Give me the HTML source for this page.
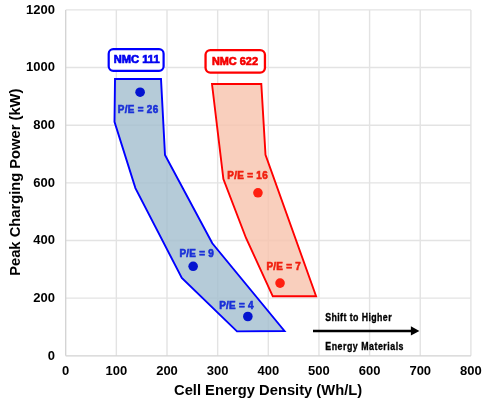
<!DOCTYPE html>
<html><head><meta charset="utf-8">
<style>
html,body{margin:0;padding:0;background:#fff;}
body{width:487px;height:402px;overflow:hidden;}
svg{display:block;will-change:transform;filter:blur(0.3px);font-family:"Liberation Sans",sans-serif;font-weight:bold;}
</style></head>
<body>
<svg width="487" height="402" viewBox="0 0 487 402">
<g stroke="#e3e3e3" stroke-width="1.4" fill="none">
<line x1="116.35" y1="9.90" x2="116.35" y2="355.80"/>
<line x1="167.00" y1="9.90" x2="167.00" y2="355.80"/>
<line x1="217.65" y1="9.90" x2="217.65" y2="355.80"/>
<line x1="268.30" y1="9.90" x2="268.30" y2="355.80"/>
<line x1="318.95" y1="9.90" x2="318.95" y2="355.80"/>
<line x1="369.60" y1="9.90" x2="369.60" y2="355.80"/>
<line x1="420.25" y1="9.90" x2="420.25" y2="355.80"/>
<line x1="470.90" y1="9.90" x2="470.90" y2="355.80"/>
<line x1="65.70" y1="240.50" x2="470.90" y2="240.50"/>
<line x1="65.70" y1="298.15" x2="470.90" y2="298.15"/>
<line x1="65.70" y1="182.85" x2="470.90" y2="182.85"/>
<line x1="65.70" y1="125.20" x2="470.90" y2="125.20"/>
<line x1="65.70" y1="67.55" x2="470.90" y2="67.55"/>
<line x1="65.70" y1="9.90" x2="470.90" y2="9.90"/>
</g>
<g stroke="#d2d2d2" stroke-width="1.3" fill="none">
<line x1="65.70" y1="9.90" x2="65.70" y2="355.80"/>
<line x1="65.70" y1="355.80" x2="470.90" y2="355.80"/>
</g>
<g font-size="13.7" fill="#000" text-anchor="end">
<text x="54.9" y="359.70" textLength="7.24" lengthAdjust="spacingAndGlyphs">0</text>
<text x="54.9" y="302.05" textLength="21.71" lengthAdjust="spacingAndGlyphs">200</text>
<text x="54.9" y="244.40" textLength="21.71" lengthAdjust="spacingAndGlyphs">400</text>
<text x="54.9" y="186.75" textLength="21.71" lengthAdjust="spacingAndGlyphs">600</text>
<text x="54.9" y="129.10" textLength="21.71" lengthAdjust="spacingAndGlyphs">800</text>
<text x="54.9" y="71.45" textLength="28.95" lengthAdjust="spacingAndGlyphs">1000</text>
<text x="54.9" y="13.80" textLength="28.95" lengthAdjust="spacingAndGlyphs">1200</text>
</g>
<g font-size="13.7" fill="#000" text-anchor="middle">
<text x="65.70" y="375.2" textLength="7.24" lengthAdjust="spacingAndGlyphs">0</text>
<text x="116.35" y="375.2" textLength="21.71" lengthAdjust="spacingAndGlyphs">100</text>
<text x="167.00" y="375.2" textLength="21.71" lengthAdjust="spacingAndGlyphs">200</text>
<text x="217.65" y="375.2" textLength="21.71" lengthAdjust="spacingAndGlyphs">300</text>
<text x="268.30" y="375.2" textLength="21.71" lengthAdjust="spacingAndGlyphs">400</text>
<text x="318.95" y="375.2" textLength="21.71" lengthAdjust="spacingAndGlyphs">500</text>
<text x="369.60" y="375.2" textLength="21.71" lengthAdjust="spacingAndGlyphs">600</text>
<text x="420.25" y="375.2" textLength="21.71" lengthAdjust="spacingAndGlyphs">700</text>
<text x="470.90" y="375.2" textLength="21.71" lengthAdjust="spacingAndGlyphs">800</text>
</g>
<text x="174.03" y="394.55" font-size="15.3" textLength="188.13" lengthAdjust="spacingAndGlyphs">Cell Energy Density (Wh/L)</text>
<text transform="translate(19.85,275.8) rotate(-90)" x="0" y="0" font-size="15.4" textLength="187.16" lengthAdjust="spacingAndGlyphs">Peak Charging Power (kW)</text>

<polygon points="115,79 161,79 165,155 212.3,243.3 284.5,331 237,331.4 181.8,277.9 135.4,188.1 114.5,121.9" fill="#a2bece" fill-opacity="0.8" stroke="#0000ff" stroke-width="1.9" stroke-linejoin="miter"/>
<polygon points="212,84 261.3,84 265.5,154.9 316.1,296.3 272.8,296.3 246,238 223.4,179" fill="#f7c3ac" fill-opacity="0.8" stroke="#ff0000" stroke-width="1.9"/>

<rect x="108.7" y="49.2" width="54.9" height="21.6" rx="4.5" fill="#fff" stroke="#0000ff" stroke-width="2.2"/>
<rect x="205.55" y="50.05" width="59.4" height="22.6" rx="4.8" fill="#fff" stroke="#ff0000" stroke-width="2.3"/>
<text x="113.77" y="63.3" font-size="11.6" fill="#0000f0" stroke="#0000f0" stroke-width="0.7" textLength="45.88" lengthAdjust="spacingAndGlyphs">NMC 111</text>
<text x="211.88" y="65.05" font-size="11.6" fill="#f50000" stroke="#f50000" stroke-width="0.7" textLength="46.08" lengthAdjust="spacingAndGlyphs">NMC 622</text>

<g fill="#0414d0">
<circle cx="140.1" cy="92.2" r="4.8"/>
<circle cx="193.15" cy="266.3" r="4.8"/>
<circle cx="247.85" cy="316.5" r="4.8"/>
</g>
<g fill="#ff2010">
<circle cx="257.95" cy="192.8" r="4.8"/>
<circle cx="280.05" cy="283.1" r="4.8"/>
</g>
<!--PE--><g font-size="11.8" stroke-width="0.7">
<text transform="translate(117.74,113.00) scale(0.84,1)" x="0" y="0" fill="#1a30d8" stroke="#1a30d8" textLength="48.12" lengthAdjust="spacing">P/E = 26</text>
<text transform="translate(179.44,256.85) scale(0.84,1)" x="0" y="0" fill="#1a30d8" stroke="#1a30d8" textLength="40.87" lengthAdjust="spacing">P/E = 9</text>
<text transform="translate(219.24,308.85) scale(0.84,1)" x="0" y="0" fill="#1a30d8" stroke="#1a30d8" textLength="40.73" lengthAdjust="spacing">P/E = 4</text>
<text transform="translate(227.24,178.85) scale(0.84,1)" x="0" y="0" fill="#f02010" stroke="#f02010" textLength="48.12" lengthAdjust="spacing">P/E = 16</text>
<text transform="translate(266.44,269.85) scale(0.84,1)" x="0" y="0" fill="#f02010" stroke="#f02010" textLength="40.95" lengthAdjust="spacing">P/E = 7</text>
</g>

<g font-size="10.5" fill="#000" stroke="#000" stroke-width="0.35">
<text transform="translate(325.2,320.85) scale(0.84,1)" x="0" y="0" textLength="79.03" lengthAdjust="spacing">Shift to Higher</text>
<text transform="translate(325.26,350.05) scale(0.84,1)" x="0" y="0" textLength="93.15" lengthAdjust="spacing">Energy Materials</text>
</g>
<line x1="313" y1="331" x2="412" y2="331" stroke="#000" stroke-width="2.7"/>
<polygon points="410.9,326.2 419.4,330.9 410.9,335.4" fill="#000"/>
</svg>
</body></html>
